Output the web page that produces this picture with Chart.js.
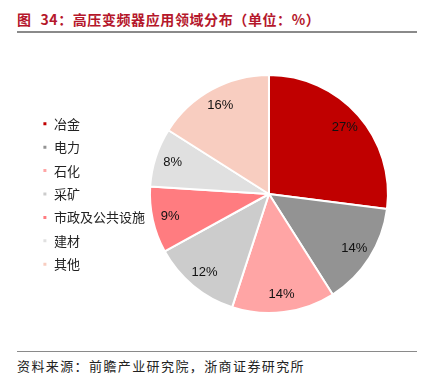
<!DOCTYPE html>
<html>
<head>
<meta charset="utf-8">
<script src="https://cdn.jsdelivr.net/npm/chart.js@4.4.1/dist/chart.umd.min.js"></script>
<style>
  html, body { margin: 0; padding: 0; background: #fff; }
  #page { position: relative; width: 436px; height: 391px; overflow: hidden; }
  #title {
    position: absolute; left: 17px; top: 9px;
    font: bold 14px "Noto Sans CJK SC", sans-serif; color: #b5172b; white-space: nowrap;
    letter-spacing: 0.6px;
  }
  #title .num { margin-left: 5px; }
  #topLine { position: absolute; left: 17px; top: 31px; width: 400px; height: 2px; background: #8a8a8a; }
  #wrap { position: absolute; left: 0; top: 40px; width: 436px; height: 305px; }
  #bottomLine { position: absolute; left: 17px; top: 351px; width: 400px; height: 1px; background: #8a8a8a; }
  #source {
    position: absolute; left: 17px; top: 356px;
    font: 13px "Noto Sans CJK SC", serif; color: #222; letter-spacing: 1.4px; white-space: nowrap;
  }
</style>
</head>
<body>
<div id="page">
  <div id="title">图 <span class="num">34</span>：高压变频器应用领域分布（单位：%）</div>
  <div id="topLine"></div>
  <div id="wrap"><canvas id="pieChart"></canvas></div>
  <div id="bottomLine"></div>
  <div id="source">资料来源：前瞻产业研究院，浙商证券研究所</div>
</div>
<script>
// --- 數據 ---
const categories = ['冶金', '电力', '石化', '采矿', '市政及公共设施', '建材', '其他'];
const shares = [27, 14, 14, 12, 9, 8, 16];
const sliceColors = ['#c00000', '#939393', '#ffa5a5', '#cccccc', '#ff7c80', '#e0e0e0', '#f8cdc0'];

// 扇區內百分比標籤
const pctLabels = {
    id: 'pctLabels',
    afterDatasetsDraw(chart) {
        const ctx = chart.ctx;
        const meta = chart.getDatasetMeta(0);
        ctx.save();
        ctx.font = '13px "Liberation Sans", Arial, sans-serif';
        ctx.fillStyle = '#111';
        ctx.textAlign = 'center';
        ctx.textBaseline = 'middle';
        meta.data.forEach((arc, i) => {
            const p = arc.getProps(['x', 'y', 'startAngle', 'endAngle', 'outerRadius'], true);
            const mid = (p.startAngle + p.endAngle) / 2;
            const r = p.outerRadius * 0.85;
            ctx.fillText(shares[i] + '%', p.x + Math.cos(mid) * r, p.y + Math.sin(mid) * r);
        });
        ctx.restore();
    }
};

const chart = new Chart(document.getElementById('pieChart'), {
    type: 'pie',
    data: {
        labels: categories,
        datasets: [{
            data: shares,
            backgroundColor: sliceColors,
            borderColor: '#ffffff',
            borderWidth: 2,
            radius: 119,
            clip: false
        }]
    },
    options: {
        responsive: true,
        maintainAspectRatio: false,
        animation: false,
        layout: { padding: { left: 32, right: 53, top: 35, bottom: 32 } },
        plugins: {
            legend: {
                position: 'left',
                labels: {
                    boxWidth: 5,
                    boxHeight: 5,
                    padding: 10.4,
                    color: '#222',
                    font: { size: 13, family: '"Noto Sans CJK SC", sans-serif' }
                }
            },
            tooltip: { enabled: false }
        }
    },
    plugins: [pctLabels]
});
</script>
</body>
</html>
